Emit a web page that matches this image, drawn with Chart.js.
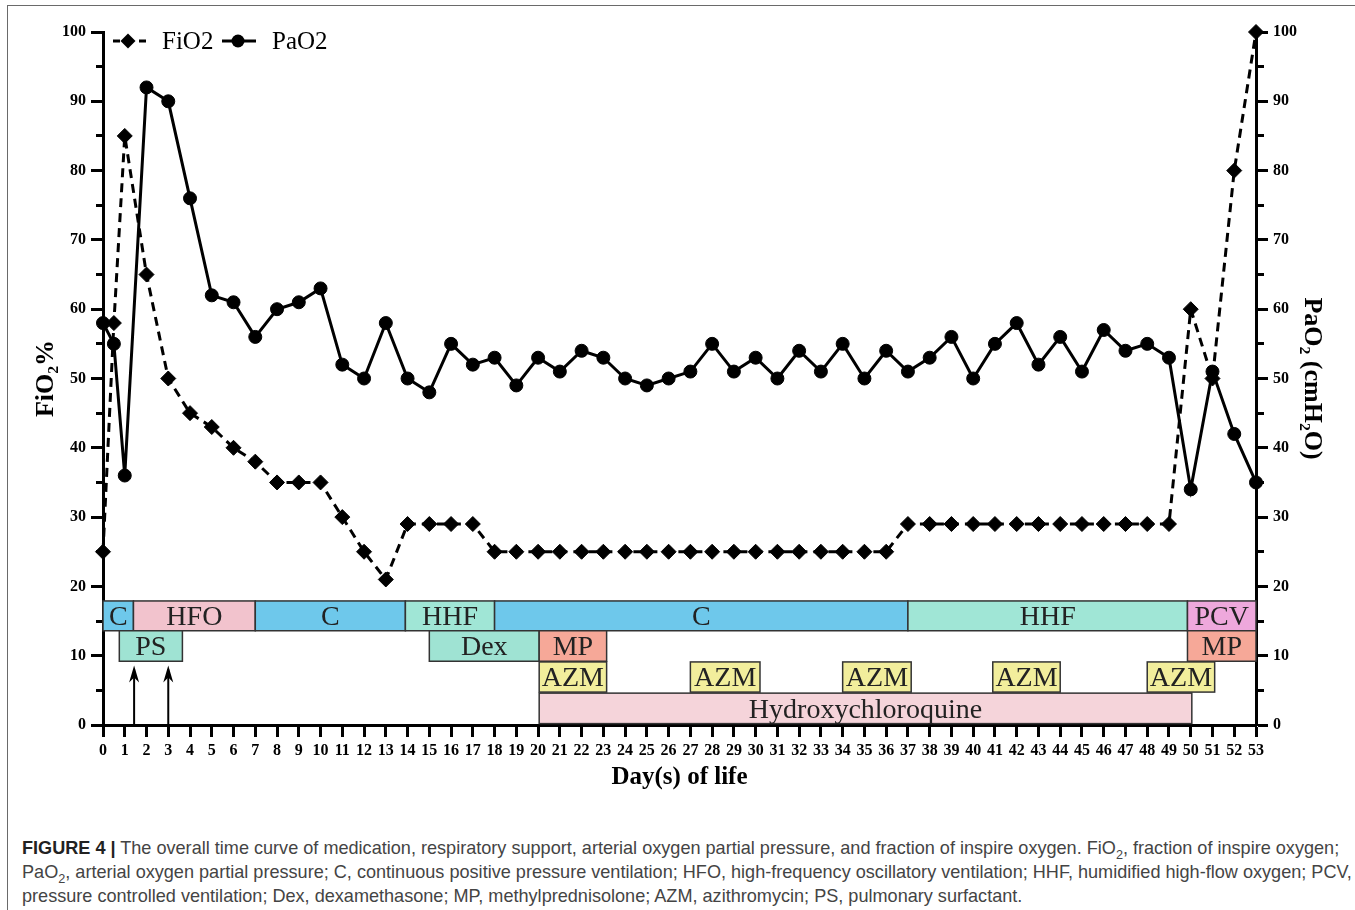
<!DOCTYPE html>
<html>
<head>
<meta charset="utf-8">
<script src="https://cdn.jsdelivr.net/npm/chart.js@4.4.1/dist/chart.umd.min.js"></script>
<style>
  body { margin: 0; background: #fff; width: 1355px; height: 910px; overflow: hidden; position: relative; }
  .frame { position: absolute; left: 7px; top: 5px; width: 1400px; height: 1000px; border: 1.5px solid #6a6a6a; }
  #wrap { position: absolute; left: 0; top: 0; width: 1355px; height: 800px; }
  .caption { position: absolute; left: 22px; top: 836px; font-family: "Liberation Sans", Arial, sans-serif;
             font-size: 18.1px; line-height: 24px; color: #444; white-space: nowrap; }
  .caption b { color: #222; }
  .caption sub { font-size: 70%; line-height: 0; }
</style>
</head>
<body>
<div class="frame"></div>
<div id="wrap"><canvas id="chart" width="1355" height="800"></canvas></div>
<div class="caption">
  <b>FIGURE 4 |</b> The overall time curve of medication, respiratory support, arterial oxygen partial pressure, and fraction of inspire oxygen. FiO<sub>2</sub>, fraction of inspire oxygen;<br>
  PaO<sub>2</sub>, arterial oxygen partial pressure; C, continuous positive pressure ventilation; HFO, high-frequency oscillatory ventilation; HHF, humidified high-flow oxygen; PCV,<br>
  pressure controlled ventilation; Dex, dexamethasone; MP, methylprednisolone; AZM, azithromycin; PS, pulmonary surfactant.
</div>
<script>
// day of life for each measurement (two readings on day 0)
const days = [0, 0.5, 1, 2, 3, 4, 5, 6, 7, 8, 9, 10, 11, 12, 13, 14, 15, 16, 17, 18, 19, 20,
  21, 22, 23, 24, 25, 26, 27, 28, 29, 30, 31, 32, 33, 34, 35, 36, 37, 38, 39, 40,
  41, 42, 43, 44, 45, 46, 47, 48, 49, 50, 51, 52, 53];
const fio2 = [25, 58, 85, 65, 50, 45, 43, 40, 38, 35, 35, 35, 30, 25, 21, 29, 29, 29, 29, 25, 25, 25,
  25, 25, 25, 25, 25, 25, 25, 25, 25, 25, 25, 25, 25, 25, 25, 25, 29, 29, 29, 29,
  29, 29, 29, 29, 29, 29, 29, 29, 29, 60, 50, 80, 100];
const pao2 = [58, 55, 36, 92, 90, 76, 62, 61, 56, 60, 61, 63, 52, 50, 58, 50, 48, 55, 52, 53, 49, 53,
  51, 54, 53, 50, 49, 50, 51, 55, 51, 53, 50, 54, 51, 55, 50, 54, 51, 53, 56, 50,
  55, 58, 52, 56, 51, 57, 54, 55, 53, 34, 51, 42, 35];
const yTicks = [0, 10, 20, 30, 40, 50, 60, 70, 80, 90, 100];

// respiratory support periods (days)
const supportNames = ['C', 'HFO', 'C', 'HHF', 'C', 'HHF', 'PCV'];
const supportStart = [0, 1.4, 7, 13.9, 18, 37, 49.85];
const supportEnd = [1.4, 7, 13.9, 18, 37, 49.85, 53];
// drugs
const drugNames = ['PS', 'Dex', 'MP', 'MP'];
const drugStart = [0.75, 15, 20.05, 49.85];
const drugEnd = [3.65, 20.05, 23.15, 53];
const azmStart = [20.05, 27, 34, 40.9, 48];
const azmEnd = [23.15, 30.2, 37.15, 44, 51.1];
const hcqStart = [20.05];
const hcqEnd = [50.05];
const psDoseDays = [1.43, 3];

// styling (rows are in y-axis units)
const rowBands = { support: [13.6, 17.9], drug: [9.2, 13.6], azm: [4.75, 9.1], hcq: [0.2, 4.6] };
const boxColors = {
  C: '#6ec8eb', HFO: '#f2c3cd', HHF: '#a0e6d6', PCV: '#eea8dc', PS: '#9fe3d3',
  Dex: '#9fe3d3', MP: '#f6a898', AZM: '#f2ee9c', Hydroxychloroquine: '#f5d4da'
};
const serif = '"Liberation Serif", "Times New Roman", serif';

function drawBox(ctx, sx, sy, name, d0, d1, band) {
  const x0 = sx.getPixelForValue(d0), x1 = sx.getPixelForValue(d1);
  const yTop = sy.getPixelForValue(band[1]), yBot = sy.getPixelForValue(band[0]);
  ctx.fillStyle = boxColors[name];
  ctx.fillRect(x0, yTop, x1 - x0, yBot - yTop);
  ctx.strokeStyle = '#333';
  ctx.lineWidth = 1.5;
  ctx.strokeRect(x0, yTop, x1 - x0, yBot - yTop);
  ctx.fillStyle = '#222';
  ctx.font = '28px ' + serif;
  ctx.textAlign = 'center';
  ctx.textBaseline = 'middle';
  ctx.fillText(name, (x0 + x1) / 2, (yTop + yBot) / 2 + 2);
}

const timelinePlugin = {
  id: 'timeline',
  beforeDatasetsDraw(chart) {
    const ctx = chart.ctx, sx = chart.scales.x, sy = chart.scales.y;
    ctx.save();
    supportNames.forEach((n, i) => drawBox(ctx, sx, sy, n, supportStart[i], supportEnd[i], rowBands.support));
    drugNames.forEach((n, i) => drawBox(ctx, sx, sy, n, drugStart[i], drugEnd[i], rowBands.drug));
    azmStart.forEach((s, i) => drawBox(ctx, sx, sy, 'AZM', s, azmEnd[i], rowBands.azm));
    hcqStart.forEach((s, i) => drawBox(ctx, sx, sy, 'Hydroxychloroquine', s, hcqEnd[i], rowBands.hcq));

    // surfactant doses
    ctx.strokeStyle = '#000';
    ctx.fillStyle = '#000';
    ctx.lineWidth = 2;
    psDoseDays.forEach(d => {
      const x = sx.getPixelForValue(d);
      const yb = sy.getPixelForValue(0), yt = sy.getPixelForValue(8.6);
      ctx.beginPath();
      ctx.moveTo(x, yb);
      ctx.lineTo(x, yt + 4);
      ctx.stroke();
      ctx.beginPath();
      ctx.moveTo(x, yt);
      ctx.lineTo(x + 5, yt + 17);
      ctx.lineTo(x, yt + 12);
      ctx.lineTo(x - 5, yt + 17);
      ctx.closePath();
      ctx.fill();
    });
    ctx.restore();
  },
  afterDraw(chart) {
    // legend
    const ctx = chart.ctx;
    const y = 41;
    ctx.save();
    ctx.strokeStyle = '#000';
    ctx.fillStyle = '#000';
    ctx.lineWidth = 3;
    ctx.setLineDash([7, 6]);
    ctx.beginPath();
    ctx.moveTo(113, y);
    ctx.lineTo(146, y);
    ctx.stroke();
    ctx.setLineDash([]);
    ctx.beginPath();
    ctx.moveTo(128, y - 7.5);
    ctx.lineTo(135.5, y);
    ctx.lineTo(128, y + 7.5);
    ctx.lineTo(120.5, y);
    ctx.closePath();
    ctx.fill();
    ctx.beginPath();
    ctx.moveTo(222, y);
    ctx.lineTo(256, y);
    ctx.stroke();
    ctx.beginPath();
    ctx.arc(238, y, 6.5, 0, Math.PI * 2);
    ctx.fill();
    ctx.font = '25px ' + serif;
    ctx.textAlign = 'left';
    ctx.textBaseline = 'middle';
    ctx.fillText('FiO2', 162, y + 1);
    ctx.fillText('PaO2', 272, y + 1);
    ctx.restore();
  }
};

function yAxis(pos, title, titlePad, width) {
  return {
    type: 'linear',
    position: pos,
    min: 0,
    max: 100,
    afterFit: (scale) => { scale.width = width; },
    border: { display: true, color: '#000', width: 3 },
    grid: {
      drawOnChartArea: false,
      drawTicks: true,
      tickLength: 12,
      tickWidth: 3,
      tickColor: '#000',
      tickBorderDash: (c) => (c.tick && c.tick.value % 10 !== 0) ? (pos === 'left' ? [0, 5, 50, 0] : [6, 50]) : []
    },
    ticks: {
      stepSize: 5,
      color: '#000',
      padding: 5,
      font: { family: serif, size: 16, weight: 'bold' },
      callback: (v) => yTicks.includes(v) ? String(v) : ''
    },
    title: {
      display: true,
      text: title,
      color: '#000',
      font: { family: serif, size: 26, weight: 'bold' },
      padding: { top: titlePad, bottom: 0 }
    }
  };
}

new Chart(document.getElementById('chart'), {
  type: 'line',
  data: {
    datasets: [
      {
        label: 'FiO2',
        data: days.map((d, i) => ({ x: d, y: fio2[i] })),
        yAxisID: 'y',
        borderColor: '#000',
        backgroundColor: '#000',
        borderWidth: 3,
        borderDash: [9, 6],
        pointStyle: 'rectRot',
        pointRadius: 7.5,
        pointBorderWidth: 1,
        tension: 0,
        clip: false
      },
      {
        label: 'PaO2',
        data: days.map((d, i) => ({ x: d, y: pao2[i] })),
        yAxisID: 'y1',
        borderColor: '#000',
        backgroundColor: '#000',
        borderWidth: 3,
        pointStyle: 'circle',
        pointRadius: 6.5,
        pointBorderWidth: 1,
        tension: 0,
        clip: false
      }
    ]
  },
  options: {
    responsive: false,
    animation: false,
    devicePixelRatio: 1,
    layout: { padding: { top: 32, left: 0, right: 0, bottom: 0 } },
    plugins: { legend: { display: false }, tooltip: { enabled: false } },
    scales: {
      x: {
        type: 'linear',
        min: 0,
        max: 53,
        afterFit: (scale) => { scale.height = 75; },
        border: { display: true, color: '#000', width: 3 },
        grid: { drawOnChartArea: false, drawTicks: true, tickLength: 12, tickWidth: 3, tickColor: '#000' },
        ticks: {
          stepSize: 1,
          autoSkip: false,
          maxRotation: 0,
          color: '#000',
          padding: 4,
          font: { family: serif, size: 16, weight: 'bold' }
        },
        title: {
          display: true,
          text: 'Day(s) of life',
          color: '#000',
          font: { family: serif, size: 25, weight: 'bold' },
          padding: { top: 0, bottom: 7 }
        }
      },
      y: yAxis('left', 'FiO₂%', 31, 103),
      y1: yAxis('right', 'PaO₂ (cmH₂O)', 28, 99)
    }
  },
  plugins: [timelinePlugin]
});
</script>
</body>
</html>
